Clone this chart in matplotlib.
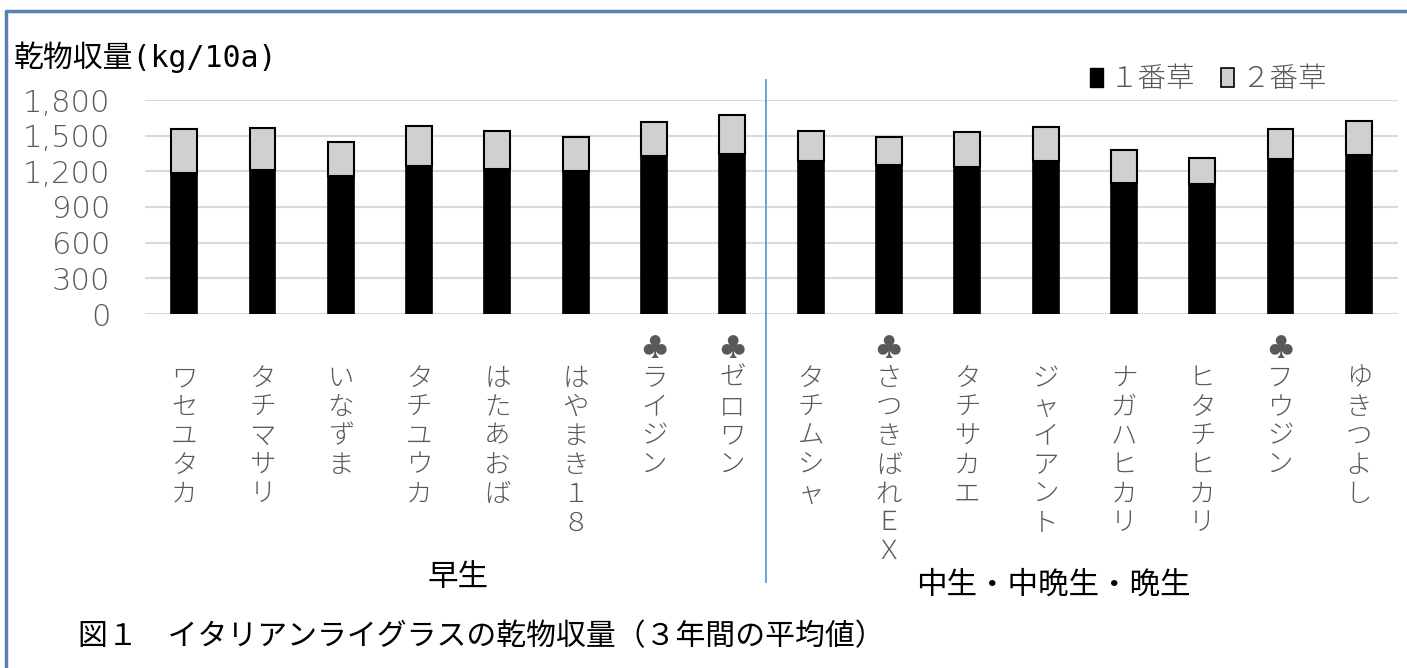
import matplotlib
matplotlib.use('Agg')
import matplotlib.pyplot as plt
from matplotlib import transforms
from matplotlib.patches import Patch
from matplotlib.lines import Line2D

plt.rcParams['font.family'] = ['Noto Sans CJK JP', 'DejaVu Sans']

# varieties (♣ marks newer varieties)
varieties = ['ワセユタカ', 'タチマサリ', 'いなずま', 'タチユウカ', 'はたあおば', 'はやまき１８',
             '♣ライジン', '♣ゼロワン',
             'タチムシャ', '♣さつきばれＥＸ', 'タチサカエ', 'ジャイアント', 'ナガハヒカリ',
             'ヒタチヒカリ', '♣フウジン', 'ゆきつよし']
first_cut = [1187, 1212, 1159, 1248, 1220, 1204, 1332, 1349,
             1288, 1257, 1240, 1288, 1100, 1097, 1302, 1338]
total = [1554, 1562, 1447, 1584, 1542, 1487, 1613, 1677,
         1540, 1492, 1531, 1573, 1380, 1310, 1559, 1620]
second_cut = [t - f for t, f in zip(total, first_cut)]
series_names = ['１番草', '２番草']
groups = ['早生', '中生・中晩生・晩生']
yticks = [0, 300, 600, 900, 1200, 1500, 1800]

GRAY = '#595959'
W, H = 1407, 668

fig = plt.figure(figsize=(W / 100, H / 100), dpi=100)
ax = fig.add_axes([145 / W, 1 - 314 / H, (1398 - 145) / W, 214 / H])

x = list(range(len(varieties)))
ax.bar(x, first_cut, width=0.33, color='black', edgecolor='black', linewidth=1.2, zorder=3)
ax.bar(x, second_cut, width=0.33, bottom=first_cut, color='#d0d0d0', edgecolor='black',
       linewidth=1.5, zorder=3)

ax.set_xlim(-0.5, len(varieties) - 0.5)
ax.set_ylim(0, 1800)
ax.set_yticks(yticks)
ax.set_yticklabels(['{:,}'.format(v) for v in yticks])
ax.tick_params(axis='y', length=0, pad=25, labelsize=22, labelcolor=GRAY)
ax.set_xticks([])
for lbl in ax.get_yticklabels():
    lbl.set_fontfamily(['DejaVu Sans'])
    lbl.set_fontweight('light')
ax.yaxis.grid(True, color='#d9d9d9', linewidth=1.5, zorder=0)
for s in ax.spines.values():
    s.set_visible(False)

# vertical (tategaki) category labels
trans = transforms.blended_transform_factory(ax.transData, fig.transFigure)
top_y = 1 - 364 / H
for i, name in enumerate(varieties):
    if name.startswith('♣'):
        ax.text(i, top_y + 29 / H, '♣', transform=trans, ha='center', va='top',
                fontsize=19, color=GRAY, clip_on=False)
        name = name[1:]
    ax.text(i, top_y, '\n'.join(name), transform=trans, ha='center', va='top',
            fontsize=19, color=GRAY, fontweight='light', linespacing=1.04, clip_on=False)

ax.text(3.5, 1 - 577 / H, groups[0], transform=trans, ha='center', va='center',
        fontsize=22, color='black')
ax.text(11.1, 1 - 585 / H, groups[1], transform=trans, ha='center', va='center',
        fontsize=22, color='black')

# divider between the two groups
fig.add_artist(Line2D([766 / W, 766 / W], [1 - 80 / H, 1 - 582 / H], color='#5b9bd5', linewidth=1.3))

# outer frame (top and left)
fig.add_artist(Line2D([6 / W, 6 / W, 1], [0, 1 - 11 / H, 1 - 11 / H], color='#5a7fb0', linewidth=2.5))

fig.text(14 / W, 1 - 57 / H, '乾物収量(kg/10a)', ha='left', va='center', fontsize=21.5,
         color='black', family=['DejaVu Sans Mono', 'Noto Sans CJK JP'])

handles = [Patch(facecolor='black', edgecolor='black'),
           Patch(facecolor='#d0d0d0', edgecolor='black', linewidth=1.2)]
fig.legend(handles, series_names, loc='center right', bbox_to_anchor=(1352 / W, 1 - 79 / H),
           ncol=2, frameon=False, labelcolor=GRAY, handlelength=0.45,
           handleheight=0.65, handletextpad=0.25, columnspacing=0.9,
           prop={'weight': 'light', 'size': 20.5})

fig.text(78 / W, 1 - 637 / H, '図１　イタリアンライグラスの乾物収量（３年間の平均値）',
         ha='left', va='center', fontsize=21.5, color='black')

fig.savefig('out.png', dpi=100)
